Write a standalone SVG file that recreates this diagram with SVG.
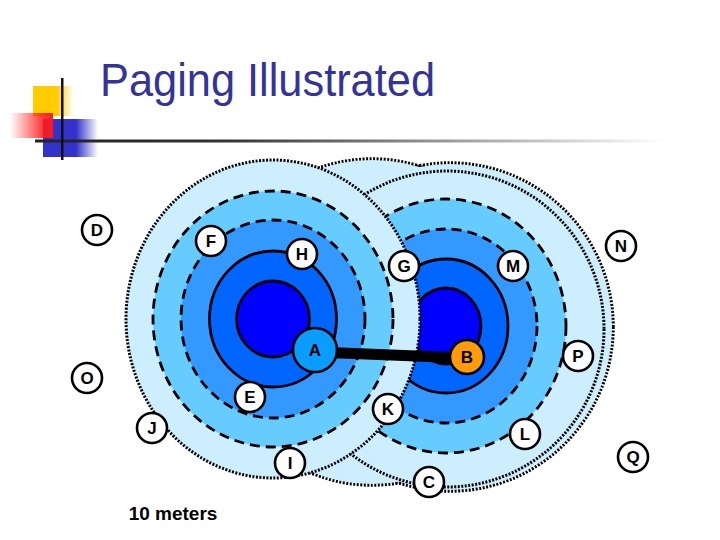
<svg xmlns="http://www.w3.org/2000/svg" width="720" height="540" viewBox="0 0 720 540">
<style>
.title{font-family:"Liberation Sans",Arial,sans-serif;font-size:46px;fill:#333399}
.lbl{font-family:"Liberation Sans",Arial,sans-serif;font-size:17px;font-weight:bold;fill:#000;text-anchor:middle}
.cap{font-family:"Liberation Sans",Arial,sans-serif;font-size:19px;font-weight:bold;fill:#000;text-anchor:middle}
.node{fill:#fff;stroke:#000;stroke-width:2.6}
.dot{fill:none;stroke:#000;stroke-width:3;stroke-dasharray:2 1.5}
.dotf{stroke:#000;stroke-width:5.5;stroke-dasharray:2 1.5}
.dash{stroke:#000;stroke-width:2.8;stroke-dasharray:10 6}
.solid{stroke:#000;stroke-width:2.8}
.z0{fill:#cceeff}
.z4{fill:#66ccff}
.z3{fill:#3399ff}
.z2{fill:#0066ff}
.z1{fill:#0000ff}
</style>
<defs>
<linearGradient id="gY" x1="0" y1="0" x2="1" y2="0"><stop offset="0" stop-color="#ffcc00"/><stop offset="0.6" stop-color="#ffcc00"/><stop offset="1" stop-color="#ffcc00" stop-opacity="0"/></linearGradient>
<linearGradient id="gR" x1="0" y1="0" x2="1" y2="0"><stop offset="0" stop-color="#ff1a1a" stop-opacity="0"/><stop offset="0.75" stop-color="#ff1a1a" stop-opacity="0.85"/><stop offset="1" stop-color="#ff1a1a"/></linearGradient>
<linearGradient id="gB" x1="0" y1="0" x2="1" y2="0"><stop offset="0" stop-color="#3333cc"/><stop offset="0.6" stop-color="#3333cc"/><stop offset="1" stop-color="#3333cc" stop-opacity="0"/></linearGradient>
<linearGradient id="gL" x1="0" y1="0" x2="1" y2="0"><stop offset="0" stop-color="#222"/><stop offset="0.3" stop-color="#333"/><stop offset="1" stop-color="#fff"/></linearGradient>
</defs>

<g id="logo">
<rect x="33" y="86" width="40" height="30" fill="url(#gY)"/>
<rect x="43" y="119" width="55" height="38" fill="url(#gB)"/>
<rect x="10" y="113" width="43" height="25" fill="url(#gR)"/>
<rect x="35" y="139.5" width="630" height="3" fill="url(#gL)"/>
<rect x="61" y="78" width="2.5" height="82" fill="#111"/>
</g>
<text class="title" x="100" y="96" textLength="335" lengthAdjust="spacingAndGlyphs">Paging Illustrated</text>

<g id="cell-right">
<ellipse class="z0 dotf" cx="450" cy="327" rx="162" ry="163"/>
<ellipse class="z0 dotf" cx="372" cy="322" rx="160" ry="162"/>
<ellipse class="z0" cx="450" cy="327" rx="162" ry="163"/>
<ellipse class="z0" cx="372" cy="322" rx="160" ry="162"/>
<ellipse class="dot" cx="447" cy="329" rx="157" ry="158"/>
<ellipse class="z4 dash" cx="446" cy="326" rx="120" ry="127"/>
<ellipse class="z3 dash" cx="446" cy="326" rx="91" ry="97"/>
<ellipse class="z2 solid" cx="446" cy="326" rx="62" ry="67"/>
<ellipse class="z1 solid" cx="446" cy="326" rx="35" ry="38"/>
</g>

<g id="cell-left">
<ellipse class="z0 dot" cx="273" cy="319" rx="147" ry="159"/>
<ellipse class="z4 dash" cx="273" cy="319" rx="120" ry="128"/>
<ellipse class="z3 dash" cx="273" cy="319" rx="92" ry="99"/>
<ellipse class="z2 solid" cx="273" cy="319" rx="63.5" ry="68"/>
<ellipse class="z1 solid" cx="273" cy="319" rx="36.5" ry="38"/>
</g>

<g id="connectors">
<line x1="316" y1="352" x2="466" y2="358" stroke="#000" stroke-width="11"/>
</g>

<g id="nodes">
<g id="node-D"><circle class="node" cx="97" cy="230" r="15"/><text class="lbl" x="97" y="236">D</text></g>
<g id="node-F"><circle class="node" cx="211" cy="241" r="15"/><text class="lbl" x="211" y="247">F</text></g>
<g id="node-H"><circle class="node" cx="302" cy="254" r="15"/><text class="lbl" x="302" y="260">H</text></g>
<g id="node-G"><circle class="node" cx="404" cy="266" r="15"/><text class="lbl" x="404" y="272">G</text></g>
<g id="node-M"><circle class="node" cx="513" cy="266" r="15"/><text class="lbl" x="513" y="272">M</text></g>
<g id="node-N"><circle class="node" cx="621" cy="246" r="15"/><text class="lbl" x="621" y="252">N</text></g>
<g id="node-A"><circle cx="315" cy="350" r="22" fill="#0a9cff" stroke="#000" stroke-width="2.6"/><text class="lbl" x="315" y="356">A</text></g>
<g id="node-B"><circle cx="467" cy="357" r="17" fill="#ff9a0a" stroke="#000" stroke-width="2.6"/><text class="lbl" x="467" y="363">B</text></g>
<g id="node-P"><circle class="node" cx="578" cy="356" r="15"/><text class="lbl" x="578" y="362">P</text></g>
<g id="node-O"><circle class="node" cx="87" cy="378" r="15"/><text class="lbl" x="87" y="384">O</text></g>
<g id="node-E"><circle class="node" cx="250" cy="397" r="15"/><text class="lbl" x="250" y="403">E</text></g>
<g id="node-K"><circle class="node" cx="388" cy="409" r="15"/><text class="lbl" x="388" y="415">K</text></g>
<g id="node-J"><circle class="node" cx="152" cy="428" r="15"/><text class="lbl" x="152" y="434">J</text></g>
<g id="node-L"><circle class="node" cx="525" cy="434" r="15"/><text class="lbl" x="525" y="440">L</text></g>
<g id="node-I"><circle class="node" cx="290" cy="463" r="15"/><text class="lbl" x="290" y="469">I</text></g>
<g id="node-C"><circle class="node" cx="429" cy="482" r="15"/><text class="lbl" x="429" y="488">C</text></g>
<g id="node-Q"><circle class="node" cx="633" cy="457" r="15"/><text class="lbl" x="633" y="463">Q</text></g>
</g>

<text class="cap" x="173" y="520">10 meters</text>
</svg>
